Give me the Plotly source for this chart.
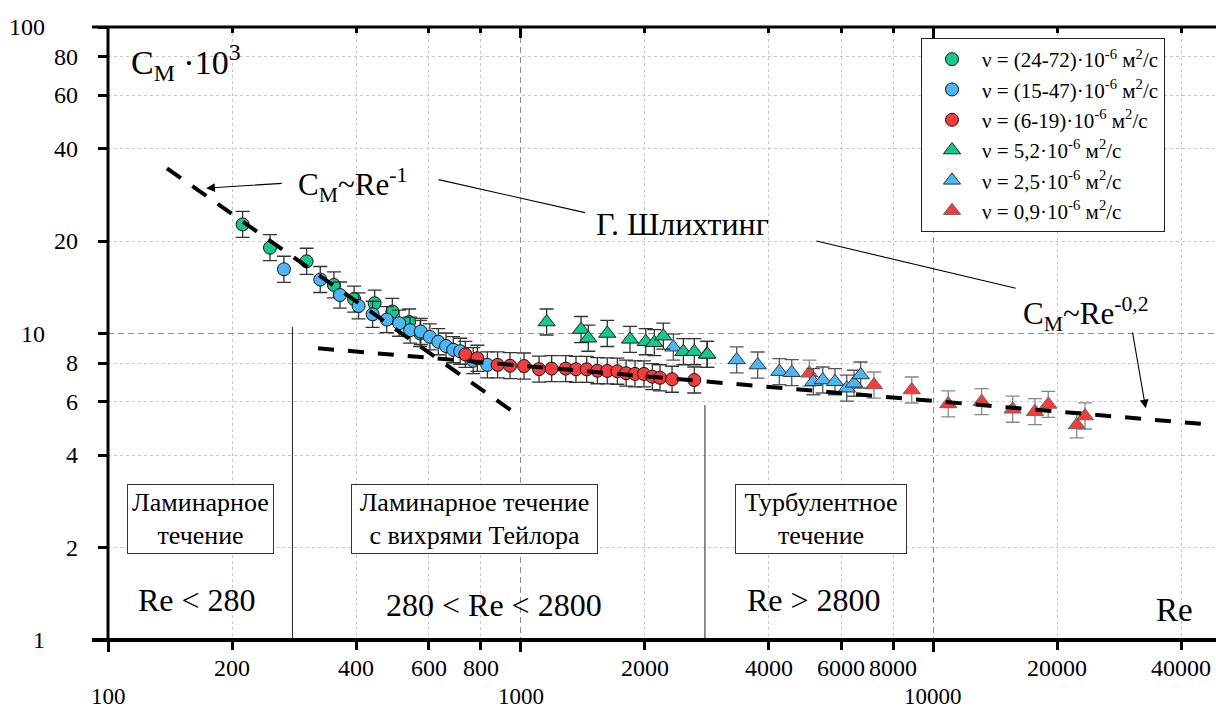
import math
import plotly.graph_objects as go

FONT = "Liberation Serif, Times New Roman, serif"

# ---------------- data ----------------
re_green_circ = [212, 247, 303, 353, 395, 443, 489, 537, 571]
cm_green_circ = [22.7, 19.05, 17.2, 14.4, 12.95, 12.55, 11.8, 10.9, 10.0]

re_blue_circ = [267, 327, 365, 405, 438, 474, 508, 540, 573, 603, 632, 660, 687, 714, 768, 831]
cm_blue_circ = [16.2, 15.0, 13.35, 12.3, 11.55, 11.1, 10.8, 10.25, 10.15, 9.75, 9.4, 9.1, 8.85, 8.75, 8.15, 7.9]

re_red_circ = [735, 786, 880, 943, 1020, 1109, 1190, 1287, 1363, 1447, 1536, 1623, 1717, 1803, 1895,
               1992, 2087, 2179, 2330, 2638]
cm_red_circ = [8.55, 8.3, 7.9, 7.85, 7.83, 7.65, 7.68, 7.68, 7.64, 7.64, 7.56, 7.55, 7.53, 7.42, 7.38,
               7.38, 7.23, 7.17, 7.09, 7.05]

re_green_tri = [1157, 1402, 1460, 1623, 1843, 2012, 2111, 2219, 2482, 2638, 2838]
cm_green_tri = [10.9, 10.3, 9.65, 10.0, 9.57, 9.4, 9.33, 9.8, 8.72, 8.72, 8.55]

re_blue_tri = [2347, 2829, 3343, 3758, 4241, 4545, 5127, 5404, 5786, 6178, 6434, 6678]
cm_blue_tri = [9.02, 8.55, 8.2, 7.89, 7.51, 7.45, 6.96, 7.05, 6.96, 6.63, 6.88, 7.32]

re_red_tri = [5014, 7194, 8881, 10890, 13120, 15600, 17670, 19030, 22310, 23360]
cm_red_tri = [7.42, 6.79, 6.54, 5.89, 5.99, 5.66, 5.56, 5.87, 5.03, 5.38]

# error bars, percent (up / down)
err_up_pct = 10.3
err_down_pct = 9.3

# fitted dashed lines (end points)
re_fit_laminar = [139, 1000]
cm_fit_laminar = [34.6, 5.34]
re_fit_turb = [323, 44800]
cm_fit_turb = [8.95, 5.07]

# regime boundaries
re_bounds = [280, 2800]
cm_bound_tops = [10.5, 5.84]

# tick values
x_major = [100, 1000, 10000]
x_minor = [200, 400, 600, 800, 2000, 4000, 6000, 8000, 20000, 40000]
y_major = [1, 10, 100]
y_minor = [2, 4, 6, 8, 20, 40, 60, 80]

legend_names = [
    "ν = (24-72)·10<sup>-6</sup> м<sup>2</sup>/с",
    "ν = (15-47)·10<sup>-6</sup> м<sup>2</sup>/с",
    "ν = (6-19)·10<sup>-6</sup> м<sup>2</sup>/с",
    "ν = 5,2·10<sup>-6</sup> м<sup>2</sup>/с",
    "ν = 2,5·10<sup>-6</sup> м<sup>2</sup>/с",
    "ν = 0,9·10<sup>-6</sup> м<sup>2</sup>/с",
]

# pointer lines: (tip Re, tip C, tail Re, tail C, head)
pointers = [
    (172.9, 29.8, 266, 30.9, True),
    (1433, 24.8, 627.6, 31.85, False),
    (15870, 14.05, 5176, 20.08, False),
    (32780, 5.70, 30420, 10.19, True),
]

GREEN = "#14C98B"
BLUE = "#4DB6F7"
RED = "#F53B3B"

# ---------------- figure ----------------
fig = go.Figure()


def err(color):
    return dict(type="percent", value=err_up_pct, valueminus=err_down_pct, symmetric=False,
                color=color, thickness=1.3, width=7)


series = [
    # (x, y, name, color, symbol, outline, errcolor, legendrank)
    (re_green_circ, cm_green_circ, legend_names[0], GREEN, "circle", "#111", "#333", 1),
    (re_blue_circ, cm_blue_circ, legend_names[1], BLUE, "circle", "#111", "#333", 2),
    (re_red_circ, cm_red_circ, legend_names[2], RED, "circle", "#111", "#333", 3),
    (re_red_tri, cm_red_tri, legend_names[5], RED, "triangle-up", "#666", "#888", 6),
    (re_blue_tri, cm_blue_tri, legend_names[4], BLUE, "triangle-up", "#333", "#555", 5),
    (re_green_tri, cm_green_tri, legend_names[3], GREEN, "triangle-up", "#222", "#333", 4),
]

for xs, ys, name, col, sym, outl, ecol, rank in series:
    fig.add_trace(go.Scatter(
        x=xs, y=ys, mode="markers", name=name, legendrank=rank,
        legendgroup="g%d" % rank,
        marker=dict(color=col, symbol=sym, size=13 if sym == "circle" else 15,
                    line=dict(color=outl, width=1)),
        error_y=err(ecol), hoverinfo="skip",
    ))

# dashed fits
fig.add_trace(go.Scatter(x=re_fit_laminar, y=cm_fit_laminar, mode="lines", showlegend=False,
                         line=dict(color="black", width=4, dash="17px,14px"), hoverinfo="skip"))
fig.add_trace(go.Scatter(x=re_fit_turb, y=cm_fit_turb, mode="lines", showlegend=False,
                         line=dict(color="black", width=4, dash="16px,14px"), hoverinfo="skip"))

# regime boundaries (drawn on the top axis, same scale)
for rb, top in zip(re_bounds, cm_bound_tops):
    fig.add_trace(go.Scatter(x=[rb, rb], y=[1, top], mode="lines", showlegend=False, xaxis="x2",
                             line=dict(color="#222", width=1), hoverinfo="skip"))

L, T, B = 108, 27, 70
W, H = 1216, 710
PW, PH = W - L, H - T - B


def px(x):
    return (x - L) / PW


def py(y):
    return (H - B - y) / PH


TICKF = 24
ann = []

# y tick labels
for v in y_minor:
    ann.append(dict(x=px(80), y=math.log10(v), xref="paper", yref="y", text=str(v), showarrow=False,
                    xanchor="right", yanchor="middle", font=dict(size=TICKF)))
for v in y_major:
    ann.append(dict(x=px(47), y=math.log10(v), xref="paper", yref="y", text=str(v), showarrow=False,
                    xanchor="right", yanchor="middle", font=dict(size=TICKF)))
# x tick labels
for v in x_minor:
    ann.append(dict(x=math.log10(v), y=py(668), xref="x", yref="paper", text=str(v), showarrow=False,
                    xanchor="center", yanchor="middle", font=dict(size=TICKF)))
for v in x_major:
    ann.append(dict(x=math.log10(v), y=py(696), xref="x", yref="paper", text=str(v), showarrow=False,
                    xanchor="center", yanchor="middle", font=dict(size=TICKF - 1)))

# texts
ann += [
    dict(x=px(129), y=py(62), xref="paper", yref="paper", text="C<sub>М</sub> ·10<sup>3</sup>",
         showarrow=False, xanchor="left", yanchor="middle", font=dict(size=34)),
    dict(x=px(296), y=py(185), xref="paper", yref="paper", text="C<sub>М</sub>~Re<sup>-1</sup>",
         showarrow=False, xanchor="left", yanchor="middle", font=dict(size=31)),
    dict(x=px(682), y=py(224), xref="paper", yref="paper", text="Г. Шлихтинг",
         showarrow=False, xanchor="center", yanchor="middle", font=dict(size=32)),
    dict(x=px(1021), y=py(314), xref="paper", yref="paper", text="C<sub>М</sub>~Re<sup>-0,2</sup>",
         showarrow=False, xanchor="left", yanchor="middle", font=dict(size=31)),
    dict(x=px(197), y=py(600), xref="paper", yref="paper", text="Re &lt; 280",
         showarrow=False, xanchor="center", yanchor="middle", font=dict(size=32)),
    dict(x=px(494), y=py(605), xref="paper", yref="paper", text="280 &lt; Re &lt; 2800",
         showarrow=False, xanchor="center", yanchor="middle", font=dict(size=32)),
    dict(x=px(814), y=py(600), xref="paper", yref="paper", text="Re &gt; 2800",
         showarrow=False, xanchor="center", yanchor="middle", font=dict(size=32)),
    dict(x=px(1174), y=py(610), xref="paper", yref="paper", text="Re",
         showarrow=False, xanchor="center", yanchor="middle", font=dict(size=33)),
]

# boxed regime labels
boxes = [
    (200, 519, 141, "Ламинарное<br>течение"),
    (474, 519, 241, "Ламинарное течение<br>с вихрями Тейлора"),
    (821, 519, 166, "Турбулентное<br>течение"),
]
for cx, cy, bw, txt in boxes:
    ann.append(dict(x=px(cx), y=py(cy), xref="paper", yref="paper", text=txt, showarrow=False,
                    xanchor="center", yanchor="middle", width=bw, height=64, align="center",
                    bordercolor="#333", borderwidth=1, borderpad=2, bgcolor="white",
                    font=dict(size=26)))

# pointer lines / arrows
for tx, ty, ax_, ay_, head in pointers:
    ann.append(dict(x=math.log10(tx), y=math.log10(ty), ax=math.log10(ax_), ay=math.log10(ay_),
                    xref="x", yref="y", axref="x", ayref="y", text="", showarrow=True,
                    arrowhead=2 if head else 0, arrowsize=1.6, arrowwidth=1.1, arrowcolor="black",
                    standoff=0, startstandoff=0))

shapes = [
    dict(type="line", xref="paper", yref="paper", x0=0, x1=0, y0=0, y1=1,
         line=dict(color="black", width=3), layer="above"),
    dict(type="line", xref="paper", yref="paper", x0=px(92), x1=1, y0=0, y1=0,
         line=dict(color="black", width=4), layer="above"),
    dict(type="line", xref="paper", yref="paper", x0=px(92), x1=1, y0=1, y1=1,
         line=dict(color="black", width=3), layer="above"),
]

xrange = [2, 2 + PW / 412.5]

fig.update_layout(
    width=W, height=H,
    margin=dict(l=L, r=0, t=T, b=B),
    paper_bgcolor="white", plot_bgcolor="white",
    font=dict(family=FONT, color="black", size=18),
    showlegend=True,
    legend=dict(x=px(921), y=py(38), xanchor="left", yanchor="top", xref="paper", yref="paper",
                bgcolor="white", bordercolor="#222", borderwidth=1,
                font=dict(family=FONT, size=21, color="black"),
                traceorder="grouped", tracegroupgap=0, itemwidth=50),
    xaxis=dict(type="log", range=xrange, tickmode="array", tickvals=x_major, showticklabels=False,
               ticks="outside", ticklen=11, tickwidth=3, tickcolor="black",
               showgrid=True, gridcolor="#8c8c8c", griddash="6px,4px", gridwidth=1,
               zeroline=False, showline=False,
               minor=dict(tickmode="array", tickvals=x_minor, ticks="outside", ticklen=9, tickwidth=3,
                          tickcolor="black", showgrid=True, gridcolor="#c8c8c8",
                          griddash="3px,3px", gridwidth=1)),
    xaxis2=dict(type="log", range=xrange, overlaying="x", side="top", anchor="y",
                tickmode="array", tickvals=x_major, showticklabels=False,
                ticks="inside", ticklen=11, tickwidth=3, tickcolor="black",
                showgrid=False, zeroline=False, showline=False,
                minor=dict(tickmode="array", tickvals=x_minor, ticks="inside", ticklen=6,
                           tickwidth=3, tickcolor="black", showgrid=False)),
    yaxis=dict(type="log", range=[0, 2], tickmode="array", tickvals=y_major, showticklabels=False,
               ticks="outside", ticklen=9, tickwidth=3, tickcolor="black",
               showgrid=True, gridcolor="#8c8c8c", griddash="6px,4px", gridwidth=1,
               zeroline=False, showline=False,
               minor=dict(tickmode="array", tickvals=y_minor, ticks="outside", ticklen=9, tickwidth=3,
                          tickcolor="black", showgrid=True, gridcolor="#c8c8c8",
                          griddash="3px,3px", gridwidth=1)),
    annotations=ann,
    shapes=shapes,
)

fig.write_html("out.html",
               config={"displayModeBar": False},
               post_script="document.body.style.margin='0';document.body.style.overflow='hidden';")
